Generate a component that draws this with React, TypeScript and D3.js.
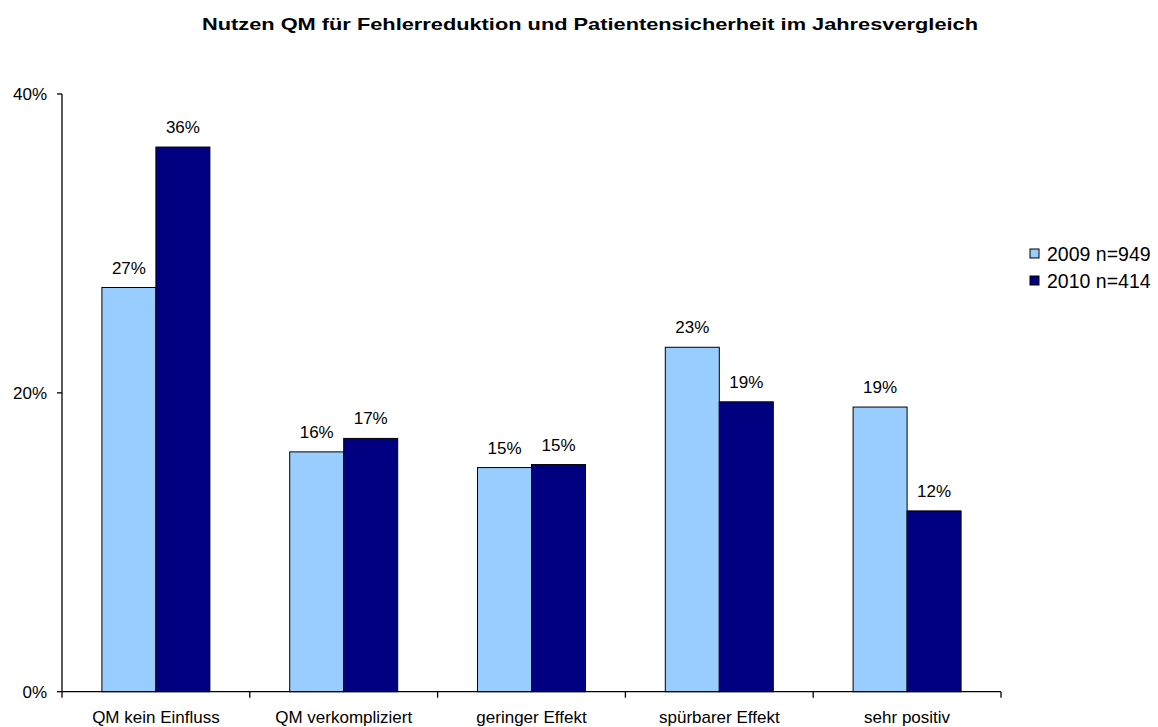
import React from "react";
import * as d3 from "d3";

const title = "Nutzen QM für Fehlerreduktion und Patientensicherheit im Jahresvergleich";
const categories = ["QM kein Einfluss", "QM verkompliziert", "geringer Effekt", "spürbarer Effekt", "sehr positiv"];
const seriesNames = ["2009 n=949", "2010 n=414"];
const values2009 = [27.05, 16.05, 15.0, 23.05, 19.05];
const values2010 = [36.45, 16.95, 15.2, 19.4, 12.1];
const yTicks = [0, 20, 40];
const colors = ["#99CCFF", "#000080"];

const W = 1158;
const H = 727;
const left = 62;
const right = 1001;
const top = 94;
const bottom = 691.7;
const barW = 54;
const font = "'Liberation Sans', Arial, sans-serif";

export default function App() {
  const x = d3.scaleBand<string>().domain(categories).range([left, right]).padding(0);
  const y = d3.scaleLinear().domain([0, 40]).range([bottom, top]);
  const series = [values2009, values2010];
  const boundaries = d3.range(categories.length + 1).map((i) => left + i * x.step());

  return (
    <div style={{ position: "absolute", left: 0, top: 0 }}>
      <svg width={W} height={H} style={{ display: "block", background: "#fff" }}>
        <text
          x={590}
          y={30}
          textAnchor="middle"
          fontFamily={font}
          fontWeight="bold"
          fontSize={16.5}
          textLength={776}
          lengthAdjust="spacingAndGlyphs"
          fill="#000"
        >
          {title}
        </text>

        {/* bars */}
        {series.map((vals, si) =>
          vals.map((v, ci) => {
            const cx = (x(categories[ci]) as number) + x.bandwidth() / 2;
            const bx = cx - barW + si * barW;
            return (
              <g key={`${si}-${ci}`}>
                <rect
                  x={bx}
                  y={y(v)}
                  width={barW}
                  height={bottom - y(v)}
                  fill={colors[si]}
                  stroke="#000"
                  strokeWidth={1}
                />
                <text
                  x={bx + barW / 2}
                  y={y(v) - 14}
                  textAnchor="middle"
                  fontFamily={font}
                  fontSize={17}
                  fill="#000"
                >
                  {`${Math.round(v)}%`}
                </text>
              </g>
            );
          })
        )}

        {/* y axis */}
        <line x1={left} x2={left} y1={top} y2={bottom} stroke="#000" strokeWidth={1.3} />
        {yTicks.map((t) => (
          <g key={t}>
            <line x1={left - 5} x2={left} y1={y(t)} y2={y(t)} stroke="#000" strokeWidth={1.3} />
            <text
              x={47}
              y={y(t)}
              dy="0.35em"
              textAnchor="end"
              fontFamily={font}
              fontSize={17}
              fill="#000"
            >
              {`${t}%`}
            </text>
          </g>
        ))}

        {/* x axis */}
        <line x1={left} x2={right} y1={bottom} y2={bottom} stroke="#000" strokeWidth={1.3} />
        {boundaries.map((bx, i) => (
          <line key={i} x1={bx} x2={bx} y1={bottom} y2={bottom + 6} stroke="#000" strokeWidth={1.3} />
        ))}
        {categories.map((c) => (
          <text
            key={c}
            x={(x(c) as number) + x.bandwidth() / 2}
            y={723}
            textAnchor="middle"
            fontFamily={font}
            fontSize={17}
            fill="#000"
          >
            {c}
          </text>
        ))}

        {/* legend */}
        {seriesNames.map((n, i) => (
          <g key={n} transform={`translate(1030, ${254 + i * 27})`}>
            <rect x={0} y={-5} width={9} height={9} fill={colors[i]} stroke="#000" strokeWidth={1} />
            <text x={17} y={0} dy="0.35em" fontFamily={font} fontSize={19.5} fill="#000">
              {n}
            </text>
          </g>
        ))}
      </svg>
    </div>
  );
}
